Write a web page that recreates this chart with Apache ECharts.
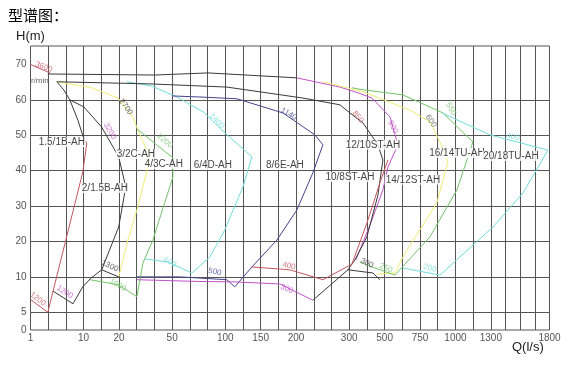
<!DOCTYPE html>
<html><head><meta charset="utf-8">
<script src="https://cdn.jsdelivr.net/npm/echarts@6/dist/echarts.min.js"></script>
<style>html,body{margin:0;padding:0;background:#fff}#c{width:576px;height:366px}</style>
</head><body><div id="c"></div>
<script>
// ---- axis ticks ----
const xTickLabels = ['1','10','20','50','100','150','200','300','500','750','1000','1300','1800'];
const xTickQ = [1,10,20,50,100,150,200,300,500,750,1000,1300,1800];
const xTickCell = [0,3,5,8,11,13,15,18,20,22,24,26,30];
const yTickLabels = ['0','5','10','20','30','40','50','60','70'];
const yTickH = [0,5,10,20,30,40,50,60,70];
const yTickRow = [0,0.5,1.5,2.5,3.5,4.5,5.5,6.5,7.5];

// ---- curves, [Q (l/s), H (m)] ----
const c15Top = [[1,70],[4.3,67.6]];
const c15RightUpper = [[5.46,65.1],[6.64,62.8],[7.66,60],[9.02,54.3],[10.06,49]];
const c15Right = [[10.06,49],[10.9,47.8],[9.86,39.6],[3.93,5],[1,6.8]];
const c2Top = [[7.66,60],[10.06,58],[15.1,52.3],[19.9,43.9]];
const c2Right = [[19.9,43.9],[23.8,35.4],[19.9,24.1],[15.1,12],[12,9.8],[9.86,8.6],[8.2,6.2],[4.8,8]];
const c3Yellow = [[5.46,65.1],[12.3,63.4],[19.7,60.5],[27.8,55.2],[30.1,52.1],[35.7,45.8],[36.3,41],[30.1,28.9],[25,20.4],[19.9,10]];
const c3Bottom = [[15.1,12],[19.9,10]];
const c4Green = [[30.1,51.8],[50.7,43.6],[50.7,38.2],[39.1,20.4],[33.5,13.9],[30.1,7.2],[19.7,8.9],[11.8,9.6]];
const c6Cyan = [[24.4,65.1],[38.5,63.9],[54.4,60.8],[79.2,56.6],[99.6,50.7],[137.6,43.9],[124.9,35.4],[99.6,23.3],[85.5,15.6],[68.6,11.1],[47.6,14.2],[34.6,15.1]];
const c8Navy = [[49.8,61.1],[76.1,60.8],[116.4,60.3],[181.4,56.3],[235.4,50.1],[250.5,47.3],[231.6,39.4],[201.5,28.9],[172.9,20.4],[137.6,12.8],[113.5,8.6],[102.2,9.6],[57.3,10],[30.1,10]];
const t1Black = [[3.93,67.3],[40.2,67],[83.6,67.6],[201.5,66.2]];
const mTop = [[201.5,66.2],[282.5,63.6],[349.2,62],[428.4,60.5],[537.5,55.2],[593.9,47.3],[523.3,41],[490.4,34.6],[428.4,26.1],[371.8,19],[337.9,14.8]];
const t2Black = [[5.46,65.1],[37.4,64.5],[102.2,63.6],[212.8,60.5],[282.5,58.6],[303.9,56.3],[377.4,53.5],[462.1,47.3],[490.4,43],[462.1,33.1],[400,21.3],[332.2,14.8],[297.6,12],[231.6,6.7]];
const m300 = [[231.6,6.7],[177.1,9],[110.7,9.3],[76.1,9.35],[30.1,9.6]];
const b300 = [[297.6,12],[434,11.1],[473,9.6]];
const r400 = [[137.6,12.8],[191.2,12],[250.5,9.6],[315.3,13.6],[400,25.2],[473,36.5],[523.3,43]];
const y1412 = [[250.5,65.1],[383.1,62.2],[678.5,57.1],[819.9,53.8],[890.5,48.1],[947,42.5],[869.4,31],[749.2,23.3],[629.2,15.6],[572.7,11.1],[456.5,10.8]];
const g1614 = [[315.3,63.4],[383.1,62.8],[629.2,61.4],[911.6,56.3],[1148.4,48.1],[1012.8,34.6],[819.9,21.3],[572.7,10.5],[428.4,12.8],[360.5,14.2]];
const c2018 = [[904.6,56.3],[1292.4,50.1],[1787,45.8],[1573.8,33.7],[1317.9,24.1],[890.5,10.5],[629.2,12.5]];

// ---- model names ----
const modelNames = ['1.5/1B-AH','2/1.5B-AH','3/2C-AH','4/3C-AH','6/4D-AH','8/6E-AH','12/10ST-AH','10/8ST-AH','14/12ST-AH','16/14TU-AH','20/18TU-AH'];
const modelQ = [6.3,16.0,29.5,45.3,88.3,184.2,433.9,303.9,699.9,1012.8,1471.5];
const modelH = [48.1,35.1,44.7,41.9,41.6,41.6,47.3,38.2,37.4,45.0,44.15];

// ---- speed labels (r/min) ----
const speedText = ['3600','r/min','2700','3200','2200','1400','1140','850','900','600','550','400','1200','1200','1300','1000','600','500','400','300','300','250','200'];
const speedQ = [3.25,2.58,23.8,17.4,45.9,92.1,189.8,349.2,558.5,826.9,968.1,1488.5,2.24,6.81,17.4,19.66,48.7,90.2,189.8,186.9,400,509.1,819.9];
const speedH = [69.3,65.3,58.0,51.2,48.4,54.0,56.0,55.2,52.3,54.0,57.4,49.5,6.88,7.87,13.1,8.86,14.2,11.4,13.1,8.3,13.9,12.5,12.5];

// ---- styles ----
const RED='#c4565f', BLK='#3a3a3a', YEL='#eded72', GRN='#74c46a', CYN='#72dcdc', NAV='#45458e', MAG='#c252c8';
const curveStyle = [
  [c15Top,RED],[c15RightUpper,BLK],[c15Right,RED],[c2Top,BLK],[c2Right,BLK],[c3Yellow,YEL],[c3Bottom,BLK],
  [c4Green,GRN],[c6Cyan,CYN],[c8Navy,NAV],[t1Black,BLK],[mTop,MAG],[t2Black,BLK],[m300,MAG],[b300,BLK],
  [r400,RED],[y1412,YEL],[g1614,GRN],[c2018,CYN]
];
const speedColor = [RED,BLK,BLK,MAG,GRN,CYN,NAV,RED,MAG,'#555',GRN,CYN,RED,MAG,BLK,GRN,CYN,NAV,RED,MAG,BLK,GRN,CYN];
const speedRot = [-20,0,-55,-60,-40,-45,-30,-50,-62,-55,-60,-12,-38,-33,-25,-30,-25,-12,-12,-22,-25,-22,-14];

// ---- scale mapping (piecewise, following the printed ticks) ----
const NARROW = 0.828;
const cellPos = k => k <= 26 ? k : 26 + (k - 26) * NARROW;
const xTickPos = xTickCell.map(cellPos);
const xMax = cellPos(30);
const yMax = 8.02;
function interp(v, xs, ys){
  for (let i = 1; i < xs.length; i++){
    if (v <= xs[i] || i === xs.length - 1){
      const t = (v - xs[i-1]) / (xs[i] - xs[i-1]);
      return ys[i-1] + t * (ys[i] - ys[i-1]);
    }
  }
}
const toX = q => interp(q, xTickQ, xTickPos);
const toY = h => interp(h, yTickH, yTickRow);
const xLines = []; for (let k = 1; k < 30; k++) xLines.push(cellPos(k));
const yLines = [0.5,1.5,2.5,3.5,4.5,5.5,6.5];
const labelAt = (v, pos, labs) => { for (let i = 0; i < pos.length; i++) if (Math.abs(pos[i]-v) < 1e-6) return labs[i]; return ''; };

const FONT = 'Liberation Sans, Arial, sans-serif';
const series = curveStyle.map(([d,c]) => ({
  type:'line', data:d.map(p => [toX(p[0]), toY(p[1])]), symbol:'none', silent:true,
  lineStyle:{color:c, width:1}, z:3
}));
series.push({
  type:'scatter', symbolSize:0, silent:true, z:5,
  data: modelNames.map((n,i) => ({value:[toX(modelQ[i]), toY(modelH[i])], name:n})),
  label:{show:true, position:'inside', formatter:p => p.name, color:'#111', fontSize:10, fontFamily:FONT,
         backgroundColor:'#fff', padding:[0,1]}
});
series.push({
  type:'scatter', symbolSize:0, silent:true, z:6,
  data: speedText.map((t,i) => ({value:[toX(speedQ[i]), toY(speedH[i])], name:t,
     label:{color:speedColor[i], rotate:speedRot[i]}})),
  label:{show:true, position:'inside', formatter:p => p.name, fontSize:8, fontFamily:FONT}
});

const chart = echarts.init(document.getElementById('c'), null, {renderer:'canvas'});
chart.setOption({
  animation:false,
  backgroundColor:'#fff',
  title:{text:'型谱图：', left:3, top:3, textStyle:{fontSize:15, fontWeight:'normal', color:'#000', fontFamily:'Noto Sans CJK SC'}},
  grid:{left:30.5, right:26.5, top:46, bottom:36, show:true, borderColor:'#555', borderWidth:1, backgroundColor:'#fff'},
  xAxis:{type:'value', min:0, max:xMax,
    axisLine:{show:false}, axisTick:{show:false, customValues:xLines},
    splitLine:{show:true, customValues:xLines, lineStyle:{color:'#555', width:1}},
    axisLabel:{customValues:xTickPos, formatter:v => labelAt(v, xTickPos, xTickLabels), color:'#555', fontSize:10, margin:3, fontFamily:FONT}},
  yAxis:{type:'value', min:0, max:yMax, name:'H(m)', nameLocation:'end', nameGap:3,
    nameTextStyle:{fontSize:13, color:'#222', fontFamily:FONT, align:'center'},
    axisLine:{show:false}, axisTick:{show:false, customValues:yLines},
    splitLine:{show:true, customValues:yLines, lineStyle:{color:'#555', width:1}},
    axisLabel:{customValues:yTickRow, formatter:v => labelAt(v, yTickRow, yTickLabels), color:'#555', fontSize:10, margin:4, fontFamily:FONT}},
  graphic:[{type:'text', left:512, top:341, style:{text:'Q(l/s)', fontSize:13, fill:'#222', fontFamily:FONT}}],
  series:series
});
</script></body></html>
